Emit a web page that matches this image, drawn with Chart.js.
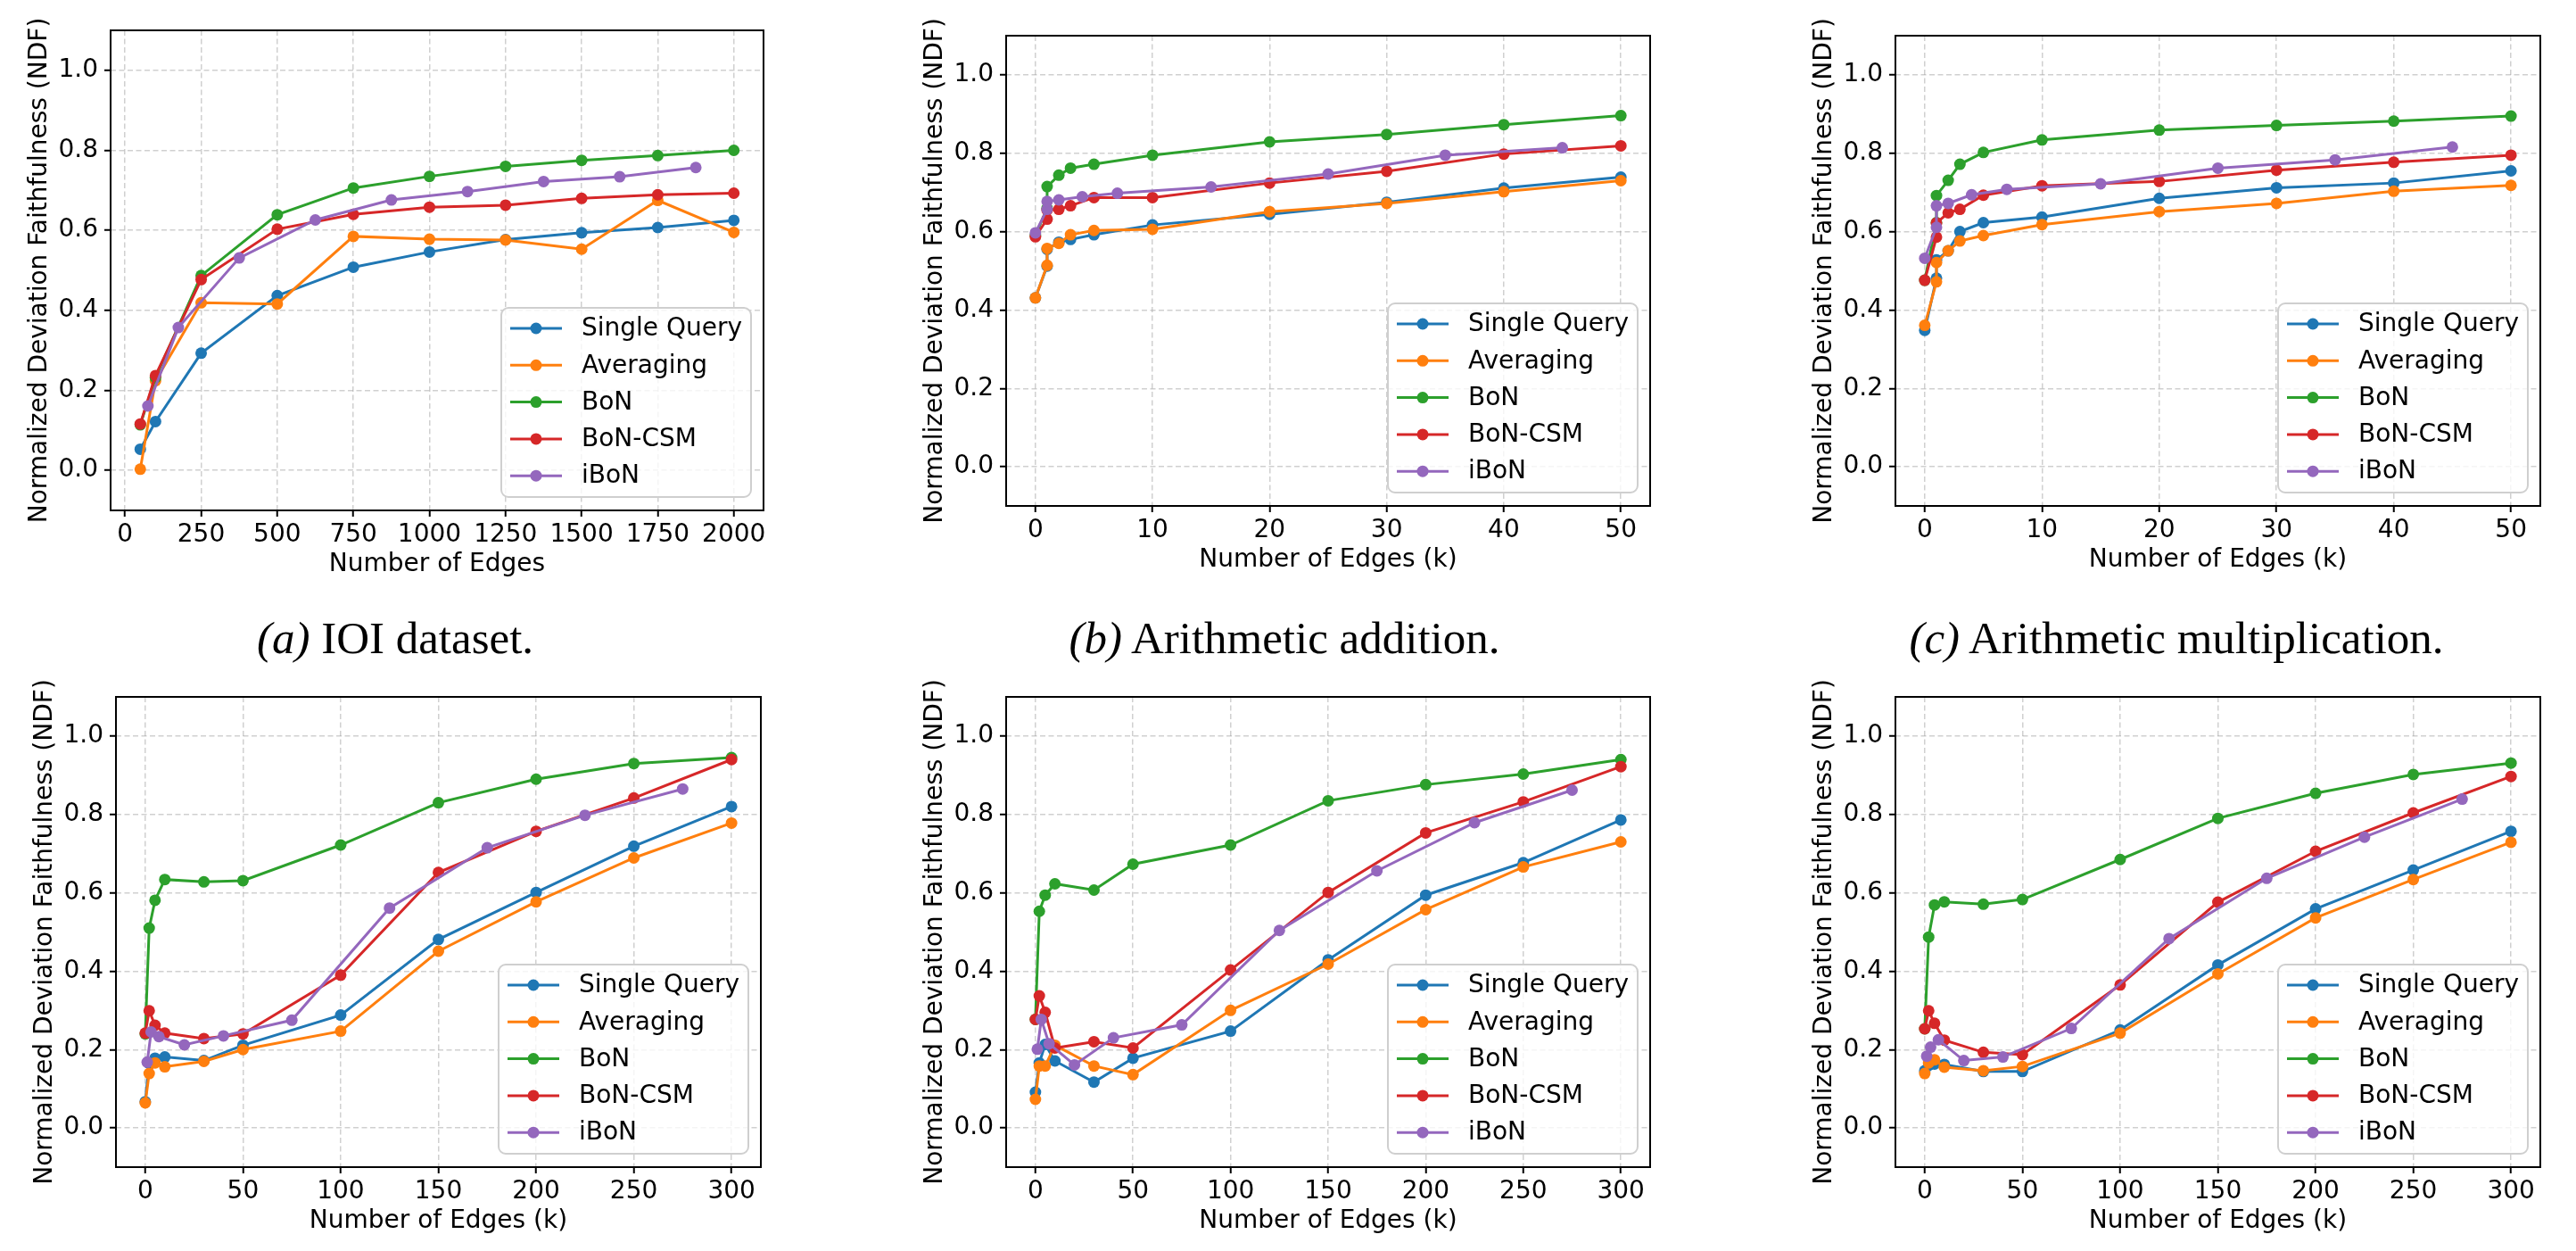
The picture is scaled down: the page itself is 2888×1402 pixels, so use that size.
<!DOCTYPE html>
<html>
<head>
<meta charset="utf-8">
<script src="https://cdn.jsdelivr.net/npm/chart.js@4.4.1/dist/chart.umd.min.js"></script>
<style>
html,body{margin:0;padding:0;background:#fff;}
body{width:2888px;height:1402px;position:relative;overflow:hidden;}
canvas{position:absolute;}
.cap{position:absolute;font-family:'Liberation Serif','DejaVu Serif',serif;font-size:51px;line-height:51px;white-space:nowrap;transform:translateX(-50%);color:#000;}
.cap i{font-style:italic;}
</style>
</head>
<body>
<div class="cap" style="left:443px;top:690px;"><i>(a)</i> IOI dataset.</div>
<div class="cap" style="left:1440px;top:690px;"><i>(b)</i> Arithmetic addition.</div>
<div class="cap" style="left:2440px;top:690px;"><i>(c)</i> Arithmetic multiplication.</div>
<script>
// ---------- data ----------
const SERIES_NAMES = ['Single Query', 'Averaging', 'BoN', 'BoN-CSM', 'iBoN'];
const Y_TICKS = [0, 0.2, 0.4, 0.6, 0.8, 1.0];
const X_TICKS_A = [0, 250, 500, 750, 1000, 1250, 1500, 1750, 2000];
const X_TICKS_K50 = [0, 10, 20, 30, 40, 50];
const X_TICKS_K300 = [0, 50, 100, 150, 200, 250, 300];

// (a) IOI dataset
const X_A = [50, 100, 250, 500, 750, 1000, 1250, 1500, 1750, 2000];
const X_A_IBON = [75, 175, 375, 625, 875, 1125, 1375, 1625, 1875];
const A_SINGLE = [0.053, 0.122, 0.293, 0.437, 0.508, 0.546, 0.577, 0.594, 0.607, 0.625];
const A_AVG    = [0.003, 0.224, 0.419, 0.416, 0.585, 0.578, 0.576, 0.553, 0.675, 0.595];
const A_BON    = [0.114, 0.232, 0.487, 0.639, 0.706, 0.735, 0.760, 0.775, 0.787, 0.800];
const A_CSM    = [0.116, 0.237, 0.477, 0.603, 0.640, 0.658, 0.663, 0.680, 0.689, 0.693];
const A_IBON   = [0.161, 0.357, 0.531, 0.626, 0.676, 0.697, 0.722, 0.734, 0.757];

// (b) Arithmetic addition / (c) multiplication (k edges)
const X_K50 = [0, 1, 1, 2, 3, 5, 10, 20, 30, 40, 50];
const X_K50_IBON = [0, 1, 1, 2, 4, 7, 15, 25, 35, 45];
const B_SINGLE = [0.431, 0.512, 0.555, 0.573, 0.580, 0.592, 0.617, 0.644, 0.675, 0.711, 0.739];
const B_AVG    = [0.431, 0.514, 0.557, 0.570, 0.592, 0.603, 0.606, 0.651, 0.672, 0.702, 0.730];
const B_BON    = [0.590, 0.660, 0.715, 0.744, 0.762, 0.772, 0.795, 0.829, 0.848, 0.873, 0.896];
const B_CSM    = [0.587, 0.632, 0.655, 0.657, 0.666, 0.687, 0.687, 0.724, 0.754, 0.798, 0.819];
const B_IBON   = [0.597, 0.657, 0.677, 0.681, 0.689, 0.698, 0.714, 0.747, 0.795, 0.814];

const C_SINGLE = [0.348, 0.481, 0.528, 0.551, 0.600, 0.623, 0.637, 0.685, 0.712, 0.724, 0.755];
const C_AVG    = [0.361, 0.472, 0.521, 0.551, 0.576, 0.590, 0.618, 0.651, 0.672, 0.703, 0.718];
const C_BON    = [0.476, 0.623, 0.692, 0.731, 0.772, 0.802, 0.834, 0.859, 0.871, 0.882, 0.895];
const C_CSM    = [0.476, 0.586, 0.622, 0.648, 0.657, 0.693, 0.717, 0.728, 0.757, 0.777, 0.795];
const C_IBON   = [0.532, 0.611, 0.666, 0.672, 0.694, 0.708, 0.722, 0.762, 0.783, 0.816];

// bottom row (k edges, up to 300)
const X_K300 = [0, 2, 5, 10, 30, 50, 100, 150, 200, 250, 300];
const X_K300_IBON = [1, 3, 7, 20, 40, 75, 125, 175, 225, 275];
const D_SINGLE = [0.067, 0.165, 0.178, 0.181, 0.172, 0.211, 0.288, 0.481, 0.601, 0.719, 0.820];
const D_AVG    = [0.064, 0.139, 0.166, 0.156, 0.170, 0.200, 0.247, 0.451, 0.577, 0.689, 0.778];
const D_BON    = [0.240, 0.510, 0.581, 0.634, 0.628, 0.631, 0.722, 0.830, 0.890, 0.930, 0.945];
const D_CSM    = [0.242, 0.299, 0.262, 0.242, 0.228, 0.240, 0.390, 0.652, 0.757, 0.842, 0.940];
const D_IBON   = [0.168, 0.245, 0.233, 0.212, 0.235, 0.275, 0.561, 0.715, 0.798, 0.865];

const E_SINGLE = [0.091, 0.166, 0.213, 0.171, 0.117, 0.178, 0.247, 0.429, 0.594, 0.677, 0.786];
const E_AVG    = [0.073, 0.158, 0.158, 0.211, 0.158, 0.136, 0.300, 0.418, 0.557, 0.666, 0.730];
const E_BON    = [0.277, 0.553, 0.594, 0.623, 0.607, 0.673, 0.722, 0.835, 0.876, 0.903, 0.940];
const E_CSM    = [0.277, 0.337, 0.295, 0.204, 0.220, 0.204, 0.403, 0.601, 0.753, 0.832, 0.922];
const E_IBON   = [0.201, 0.277, 0.215, 0.161, 0.230, 0.263, 0.504, 0.656, 0.779, 0.862];

const F_SINGLE = [0.146, 0.160, 0.163, 0.162, 0.144, 0.144, 0.250, 0.416, 0.559, 0.658, 0.757];
const F_AVG    = [0.139, 0.166, 0.174, 0.155, 0.146, 0.157, 0.242, 0.393, 0.536, 0.634, 0.729];
const F_BON    = [0.253, 0.487, 0.569, 0.577, 0.571, 0.583, 0.685, 0.790, 0.854, 0.902, 0.931];
const F_CSM    = [0.253, 0.299, 0.267, 0.224, 0.193, 0.187, 0.365, 0.576, 0.706, 0.804, 0.897];
const F_IBON   = [0.183, 0.206, 0.225, 0.172, 0.181, 0.254, 0.483, 0.637, 0.742, 0.839];

// ---------- style / layout ----------
const COLORS = ['#1f77b4', '#ff7f0e', '#2ca02c', '#d62728', '#9467bd'];
const FONT = "'DejaVu Sans', 'Liberation Sans', sans-serif";
const Y_TITLE = 'Normalized Deviation Faithfulness (NDF)';

const panels = [
  {area: [124, 34, 856, 572], xMin: -47.5, xMax: 2097.5, ticks: X_TICKS_A, title: 'Number of Edges',
   x: X_A, xi: X_A_IBON, ys: [A_SINGLE, A_AVG, A_BON, A_CSM, A_IBON]},
  {area: [1128, 40, 1850, 567], xMin: -2.5, xMax: 52.5, ticks: X_TICKS_K50, title: 'Number of Edges (k)',
   x: X_K50, xi: X_K50_IBON, ys: [B_SINGLE, B_AVG, B_BON, B_CSM, B_IBON]},
  {area: [2125, 40, 2848, 567], xMin: -2.5, xMax: 52.5, ticks: X_TICKS_K50, title: 'Number of Edges (k)',
   x: X_K50, xi: X_K50_IBON, ys: [C_SINGLE, C_AVG, C_BON, C_CSM, C_IBON]},
  {area: [130, 781, 853, 1308], xMin: -15, xMax: 315, ticks: X_TICKS_K300, title: 'Number of Edges (k)',
   x: X_K300, xi: X_K300_IBON, ys: [D_SINGLE, D_AVG, D_BON, D_CSM, D_IBON]},
  {area: [1128, 781, 1850, 1308], xMin: -15, xMax: 315, ticks: X_TICKS_K300, title: 'Number of Edges (k)',
   x: X_K300, xi: X_K300_IBON, ys: [E_SINGLE, E_AVG, E_BON, E_CSM, E_IBON]},
  {area: [2125, 781, 2848, 1308], xMin: -15, xMax: 315, ticks: X_TICKS_K300, title: 'Number of Edges (k)',
   x: X_K300, xi: X_K300_IBON, ys: [F_SINGLE, F_AVG, F_BON, F_CSM, F_IBON]}
];

const framePlugin = {
  id: 'frame',
  afterDatasetsDraw(chart) {
    const {ctx, chartArea: ca} = chart;
    ctx.save();
    ctx.strokeStyle = '#000';
    ctx.lineWidth = 2;
    ctx.strokeRect(ca.left, ca.top, ca.right - ca.left, ca.bottom - ca.top);
    ctx.restore();
  }
};

const legendPlugin = {
  id: 'mplLegend',
  afterDraw(chart) {
    const {ctx, chartArea: ca} = chart;
    const W = 280, H = 212;
    const right = ca.right - 14, bottom = ca.bottom - 15;
    const left = right - W, top = bottom - H;
    ctx.save();
    ctx.beginPath();
    ctx.roundRect(left, top, W, H, 8);
    ctx.fillStyle = 'rgba(255,255,255,0.8)';
    ctx.fill();
    ctx.strokeStyle = '#cfcfcf';
    ctx.lineWidth = 2;
    ctx.stroke();
    chart.data.datasets.forEach((ds, i) => {
      const cy = top + 23 + i * 41.3;
      ctx.strokeStyle = ds.borderColor;
      ctx.lineWidth = 3;
      ctx.beginPath();
      ctx.moveTo(left + 10, cy);
      ctx.lineTo(left + 68, cy);
      ctx.stroke();
      ctx.fillStyle = ds.borderColor;
      ctx.beginPath();
      ctx.arc(left + 39, cy, 6.5, 0, Math.PI * 2);
      ctx.fill();
      ctx.fillStyle = '#000';
      ctx.font = '28px ' + FONT;
      ctx.textBaseline = 'middle';
      ctx.textAlign = 'left';
      ctx.fillText(ds.label, left + 90, cy + 1);
    });
    ctx.restore();
  }
};

function makeChart(p) {
  const [x0, y0, x1, y1] = p.area;
  const L = 120, T = 50, R = 14, B = 90;
  const w = x1 - x0 + L + R, h = y1 - y0 + T + B;
  const cv = document.createElement('canvas');
  cv.width = w; cv.height = h;
  cv.style.left = (x0 - L) + 'px';
  cv.style.top = (y0 - T) + 'px';
  cv.style.width = w + 'px';
  cv.style.height = h + 'px';
  document.body.appendChild(cv);

  const datasets = SERIES_NAMES.map((name, i) => ({
    label: name,
    data: (i === 4 ? p.xi : p.x).map((xv, j) => ({x: xv, y: p.ys[i][j]})),
    borderColor: COLORS[i],
    backgroundColor: COLORS[i],
    pointBackgroundColor: COLORS[i],
    pointBorderColor: COLORS[i],
    pointBorderWidth: 0,
    pointRadius: 6.5,
    borderWidth: 3,
    tension: 0,
    order: 4 - i
  }));

  const gridCommon = {
    color: 'rgba(170,170,170,0.55)',
    lineWidth: 1.5,
    tickLength: 7,
    tickColor: '#000',
    tickWidth: 2,
    drawTicks: true
  };

  new Chart(cv, {
    type: 'line',
    data: {datasets},
    options: {
      responsive: false,
      animation: false,
      devicePixelRatio: 1,
      layout: {padding: {left: 0, top: T, right: R, bottom: 0}},
      plugins: {legend: {display: false}, tooltip: {enabled: false}},
      scales: {
        x: {
          type: 'linear',
          min: p.xMin, max: p.xMax,
          afterBuildTicks: s => { s.ticks = p.ticks.map(v => ({value: v})); },
          afterFit: s => { s.height = B; s.paddingLeft = 0; s.paddingRight = 0; },
          ticks: {font: {size: 28, family: FONT}, color: '#000', padding: 4, maxRotation: 0, minRotation: 0,
                  autoSkip: false, callback: v => String(v)},
          grid: gridCommon,
          border: {display: false, dash: [6, 3.5]},
          title: {display: true, text: p.title, font: {size: 28, family: FONT}, color: '#000',
                  padding: {top: 0, bottom: 12}}
        },
        y: {
          type: 'linear',
          min: -0.1, max: 1.1,
          afterBuildTicks: s => { s.ticks = Y_TICKS.map(v => ({value: v})); },
          afterFit: s => { s.width = L; s.paddingTop = 0; s.paddingBottom = 0; },
          ticks: {font: {size: 28, family: FONT}, color: '#000', padding: 7, callback: v => Number(v).toFixed(1)},
          grid: gridCommon,
          border: {display: false, dash: [6, 3.5]},
          title: {display: true, text: Y_TITLE, font: {size: 28, family: FONT}, color: '#000',
                  padding: {top: 24, bottom: 0}}
        }
      }
    },
    plugins: [framePlugin, legendPlugin]
  });
}

panels.forEach(makeChart);
</script>
</body>
</html>
